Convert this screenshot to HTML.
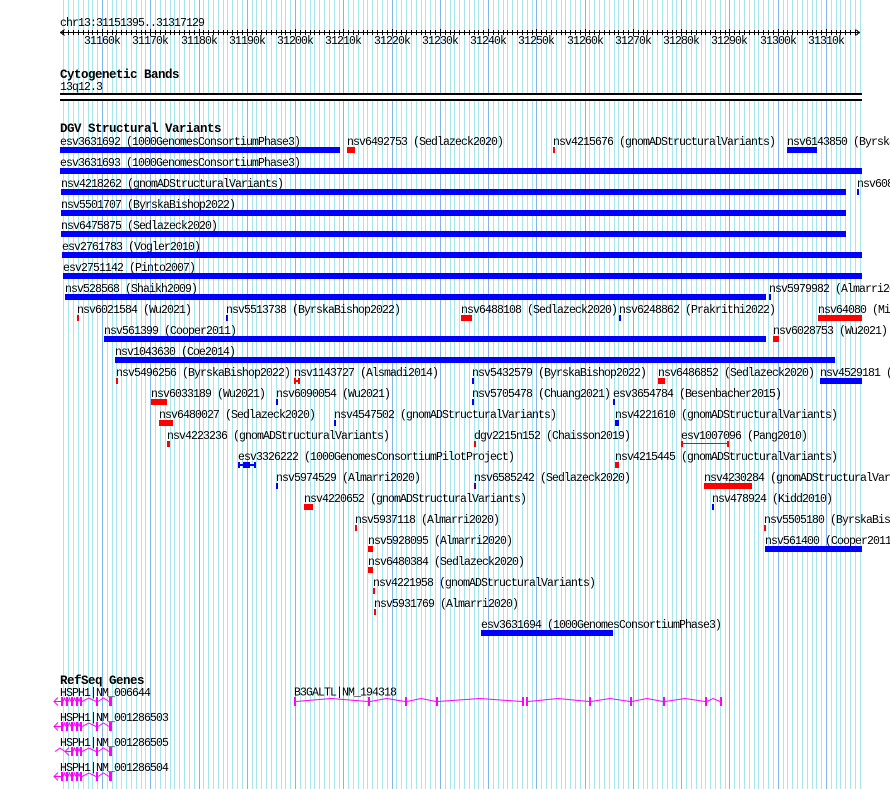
<!DOCTYPE html>
<html><head><meta charset="utf-8"><style>
html,body{margin:0;padding:0;background:#fff;}
svg{display:block;}
text{font-family:"Liberation Mono","DejaVu Sans Mono",monospace;font-size:11.5px;letter-spacing:-0.9px;fill:#000;}
text.b{font-weight:bold;font-size:12.5px;letter-spacing:-0.5px;}
</style></head><body>
<svg width="890" height="789" viewBox="0 0 890 789" xmlns="http://www.w3.org/2000/svg" shape-rendering="crispEdges">
<rect width="890" height="789" fill="#fff"/>
<!-- minor grid -->
<path stroke="#a8e6ee" stroke-width="1" fill="none" d="M63.5 0v789M68.5 0v789M73.5 0v789M78.5 0v789M83.5 0v789M88.5 0v789M92.5 0v789M97.5 0v789M107.5 0v789M112.5 0v789M116.5 0v789M121.5 0v789M126.5 0v789M131.5 0v789M136.5 0v789M141.5 0v789M145.5 0v789M155.5 0v789M160.5 0v789M165.5 0v789M170.5 0v789M174.5 0v789M179.5 0v789M184.5 0v789M189.5 0v789M194.5 0v789M203.5 0v789M208.5 0v789M213.5 0v789M218.5 0v789M223.5 0v789M227.5 0v789M232.5 0v789M237.5 0v789M242.5 0v789M252.5 0v789M256.5 0v789M261.5 0v789M266.5 0v789M271.5 0v789M276.5 0v789M281.5 0v789M285.5 0v789M290.5 0v789M300.5 0v789M305.5 0v789M310.5 0v789M314.5 0v789M319.5 0v789M324.5 0v789M329.5 0v789M334.5 0v789M339.5 0v789M348.5 0v789M353.5 0v789M358.5 0v789M363.5 0v789M367.5 0v789M372.5 0v789M377.5 0v789M382.5 0v789M387.5 0v789M396.5 0v789M401.5 0v789M406.5 0v789M411.5 0v789M416.5 0v789M421.5 0v789M425.5 0v789M430.5 0v789M435.5 0v789M445.5 0v789M450.5 0v789M454.5 0v789M459.5 0v789M464.5 0v789M469.5 0v789M474.5 0v789M478.5 0v789M483.5 0v789M493.5 0v789M498.5 0v789M503.5 0v789M507.5 0v789M512.5 0v789M517.5 0v789M522.5 0v789M527.5 0v789M532.5 0v789M541.5 0v789M546.5 0v789M551.5 0v789M556.5 0v789M561.5 0v789M565.5 0v789M570.5 0v789M575.5 0v789M580.5 0v789M589.5 0v789M594.5 0v789M599.5 0v789M604.5 0v789M609.5 0v789M614.5 0v789M618.5 0v789M623.5 0v789M628.5 0v789M638.5 0v789M643.5 0v789M647.5 0v789M652.5 0v789M657.5 0v789M662.5 0v789M667.5 0v789M672.5 0v789M676.5 0v789M686.5 0v789M691.5 0v789M696.5 0v789M701.5 0v789M705.5 0v789M710.5 0v789M715.5 0v789M720.5 0v789M725.5 0v789M734.5 0v789M739.5 0v789M744.5 0v789M749.5 0v789M754.5 0v789M758.5 0v789M763.5 0v789M768.5 0v789M773.5 0v789M783.5 0v789M787.5 0v789M792.5 0v789M797.5 0v789M802.5 0v789M807.5 0v789M812.5 0v789M816.5 0v789M821.5 0v789M831.5 0v789M836.5 0v789M840.5 0v789M845.5 0v789M850.5 0v789M855.5 0v789M860.5 0v789"/>
<!-- major grid -->
<path stroke="#82b6e8" stroke-width="1" fill="none" d="M102.5 0v789M150.5 0v789M199.5 0v789M247.5 0v789M295.5 0v789M343.5 0v789M392.5 0v789M440.5 0v789M488.5 0v789M536.5 0v789M585.5 0v789M633.5 0v789M681.5 0v789M729.5 0v789M778.5 0v789M826.5 0v789"/>

<!-- ruler -->
<text x="60" y="26">chr13:31151395..31317129</text>
<path stroke="#000" stroke-width="1" fill="none" d="M60 32.5H860"/>
<path stroke="#000" stroke-width="1" fill="none" d="M64.5 29.5L60.5 32.5L64.5 35.5M855.5 29.5L859.5 32.5L855.5 35.5"/>
<path stroke="#000" stroke-width="1" fill="none" d="M63.5 30v5M68.5 30v5M73.5 30v5M78.5 30v5M83.5 30v5M88.5 30v5M92.5 30v5M97.5 30v5M107.5 30v5M112.5 30v5M116.5 30v5M121.5 30v5M126.5 30v5M131.5 30v5M136.5 30v5M141.5 30v5M145.5 30v5M155.5 30v5M160.5 30v5M165.5 30v5M170.5 30v5M174.5 30v5M179.5 30v5M184.5 30v5M189.5 30v5M194.5 30v5M203.5 30v5M208.5 30v5M213.5 30v5M218.5 30v5M223.5 30v5M227.5 30v5M232.5 30v5M237.5 30v5M242.5 30v5M252.5 30v5M256.5 30v5M261.5 30v5M266.5 30v5M271.5 30v5M276.5 30v5M281.5 30v5M285.5 30v5M290.5 30v5M300.5 30v5M305.5 30v5M310.5 30v5M314.5 30v5M319.5 30v5M324.5 30v5M329.5 30v5M334.5 30v5M339.5 30v5M348.5 30v5M353.5 30v5M358.5 30v5M363.5 30v5M367.5 30v5M372.5 30v5M377.5 30v5M382.5 30v5M387.5 30v5M396.5 30v5M401.5 30v5M406.5 30v5M411.5 30v5M416.5 30v5M421.5 30v5M425.5 30v5M430.5 30v5M435.5 30v5M445.5 30v5M450.5 30v5M454.5 30v5M459.5 30v5M464.5 30v5M469.5 30v5M474.5 30v5M478.5 30v5M483.5 30v5M493.5 30v5M498.5 30v5M503.5 30v5M507.5 30v5M512.5 30v5M517.5 30v5M522.5 30v5M527.5 30v5M532.5 30v5M541.5 30v5M546.5 30v5M551.5 30v5M556.5 30v5M561.5 30v5M565.5 30v5M570.5 30v5M575.5 30v5M580.5 30v5M589.5 30v5M594.5 30v5M599.5 30v5M604.5 30v5M609.5 30v5M614.5 30v5M618.5 30v5M623.5 30v5M628.5 30v5M638.5 30v5M643.5 30v5M647.5 30v5M652.5 30v5M657.5 30v5M662.5 30v5M667.5 30v5M672.5 30v5M676.5 30v5M686.5 30v5M691.5 30v5M696.5 30v5M701.5 30v5M705.5 30v5M710.5 30v5M715.5 30v5M720.5 30v5M725.5 30v5M734.5 30v5M739.5 30v5M744.5 30v5M749.5 30v5M754.5 30v5M758.5 30v5M763.5 30v5M768.5 30v5M773.5 30v5M783.5 30v5M787.5 30v5M792.5 30v5M797.5 30v5M802.5 30v5M807.5 30v5M812.5 30v5M816.5 30v5M821.5 30v5M831.5 30v5M836.5 30v5M840.5 30v5M845.5 30v5M850.5 30v5M855.5 30v5M102.5 29v7M150.5 29v7M199.5 29v7M247.5 29v7M295.5 29v7M343.5 29v7M392.5 29v7M440.5 29v7M488.5 29v7M536.5 29v7M585.5 29v7M633.5 29v7M681.5 29v7M729.5 29v7M778.5 29v7M826.5 29v7"/>
<g text-anchor="middle">
<text x="102" y="44">31160k</text><text x="150" y="44">31170k</text><text x="199" y="44">31180k</text><text x="247" y="44">31190k</text><text x="295" y="44">31200k</text><text x="343" y="44">31210k</text><text x="392" y="44">31220k</text><text x="440" y="44">31230k</text><text x="488" y="44">31240k</text><text x="536" y="44">31250k</text><text x="585" y="44">31260k</text><text x="633" y="44">31270k</text><text x="681" y="44">31280k</text><text x="729" y="44">31290k</text><text x="778" y="44">31300k</text><text x="826" y="44">31310k</text>
</g>

<!-- cytogenetic bands -->
<text class="b" x="60" y="78">Cytogenetic Bands</text>
<text x="60" y="90">13q12.3</text>
<rect x="60" y="93" width="802" height="8" fill="#fff"/>
<rect x="60" y="93" width="802" height="2" fill="#000"/>
<rect x="60" y="99" width="802" height="2" fill="#000"/>

<!-- DGV -->
<text class="b" x="60" y="132">DGV Structural Variants</text>
<g>
<!-- r1 147 -->
<text x="60" y="145">esv3631692 (1000GenomesConsortiumPhase3)</text><rect x="60" y="147" width="280" height="6" fill="#00f"/>
<text x="347" y="145">nsv6492753 (Sedlazeck2020)</text><rect x="347" y="147" width="8" height="6" fill="#f00"/>
<text x="553" y="145">nsv4215676 (gnomADStructuralVariants)</text><rect x="553" y="147" width="2" height="6" fill="#f00"/>
<text x="787" y="145">nsv6143850 (ByrskaBishop2022)</text><rect x="787" y="147" width="30" height="6" fill="#00f"/>
<!-- r2 168 -->
<text x="60" y="166">esv3631693 (1000GenomesConsortiumPhase3)</text><rect x="60" y="168" width="802" height="6" fill="#00f"/>
<!-- r3 189 -->
<text x="61" y="187">nsv4218262 (gnomADStructuralVariants)</text><rect x="61" y="189" width="785" height="6" fill="#00f"/>
<text x="857" y="187">nsv608</text><rect x="857" y="189" width="2" height="6" fill="#00f"/>
<!-- r4 210 -->
<text x="61" y="208">nsv5501707 (ByrskaBishop2022)</text><rect x="61" y="210" width="785" height="6" fill="#00f"/>
<!-- r5 231 -->
<text x="61" y="229">nsv6475875 (Sedlazeck2020)</text><rect x="61" y="231" width="785" height="6" fill="#00f"/>
<!-- r6 252 -->
<text x="62" y="250">esv2761783 (Vogler2010)</text><rect x="62" y="252" width="800" height="6" fill="#00f"/>
<!-- r7 273 -->
<text x="63" y="271">esv2751142 (Pinto2007)</text><rect x="63" y="273" width="799" height="6" fill="#00f"/>
<!-- r8 294 -->
<text x="65" y="292">nsv528568 (Shaikh2009)</text><rect x="65" y="294" width="701" height="6" fill="#00f"/>
<text x="769" y="292">nsv5979982 (Almarri2020)</text><rect x="769" y="294" width="2" height="6" fill="#00f"/>
<!-- r9 315 -->
<text x="77" y="313">nsv6021584 (Wu2021)</text><rect x="77" y="315" width="2" height="6" fill="#f00"/>
<text x="226" y="313">nsv5513738 (ByrskaBishop2022)</text><rect x="226" y="315" width="2" height="6" fill="#00f"/>
<text x="461" y="313">nsv6488108 (Sedlazeck2020)</text><rect x="461" y="315" width="11" height="6" fill="#f00"/>
<text x="619" y="313">nsv6248862 (Prakrithi2022)</text><rect x="619" y="315" width="2" height="6" fill="#00f"/>
<text x="818" y="313">nsv64080 (Mills2011)</text><rect x="818" y="315" width="44" height="6" fill="#f00"/>
<!-- r10 336 -->
<text x="104" y="334">nsv561399 (Cooper2011)</text><rect x="104" y="336" width="662" height="6" fill="#00f"/>
<text x="773" y="334">nsv6028753 (Wu2021)</text><rect x="773" y="336" width="6" height="6" fill="#f00"/>
<!-- r11 357 -->
<text x="115" y="355">nsv1043630 (Coe2014)</text><rect x="115" y="357" width="720" height="6" fill="#00f"/>
<!-- r12 378 -->
<text x="116" y="376">nsv5496256 (ByrskaBishop2022)</text><rect x="116" y="378" width="2" height="6" fill="#f00"/>
<text x="294" y="376">nsv1143727 (Alsmadi2014)</text><rect x="294" y="378" width="2" height="6" fill="#f00"/><rect x="298" y="378" width="2" height="6" fill="#f00"/><rect x="296" y="380" width="2" height="2" fill="#f00"/>
<text x="472" y="376">nsv5432579 (ByrskaBishop2022)</text><rect x="472" y="378" width="2" height="6" fill="#00f"/>
<text x="658" y="376">nsv6486852 (Sedlazeck2020)</text><rect x="658" y="378" width="7" height="6" fill="#f00"/>
<text x="820" y="376">nsv4529181 (Collins2017)</text><rect x="820" y="378" width="42" height="6" fill="#00f"/>
<!-- r13 399 -->
<text x="151" y="397">nsv6033189 (Wu2021)</text><rect x="151" y="399" width="16" height="6" fill="#f00"/>
<text x="276" y="397">nsv6090054 (Wu2021)</text><rect x="276" y="399" width="2" height="6" fill="#00f"/>
<text x="472" y="397">nsv5705478 (Chuang2021)</text><rect x="472" y="399" width="2" height="6" fill="#00f"/>
<text x="613" y="397">esv3654784 (Besenbacher2015)</text><rect x="613" y="399" width="2" height="6" fill="#00f"/>
<!-- r14 420 -->
<text x="159" y="418">nsv6480027 (Sedlazeck2020)</text><rect x="159" y="420" width="14" height="6" fill="#f00"/>
<text x="334" y="418">nsv4547502 (gnomADStructuralVariants)</text><rect x="334" y="420" width="2" height="6" fill="#00f"/>
<text x="615" y="418">nsv4221610 (gnomADStructuralVariants)</text><rect x="615" y="420" width="4" height="6" fill="#00f"/>
<!-- r15 441 -->
<text x="167" y="439">nsv4223236 (gnomADStructuralVariants)</text><rect x="167" y="441" width="3" height="6" fill="#f00"/>
<text x="474" y="439">dgv2215n152 (Chaisson2019)</text><rect x="474" y="441" width="2" height="6" fill="#f00"/>
<text x="681" y="439">esv1007096 (Pang2010)</text><rect x="681" y="441" width="2" height="6" fill="#f00"/><rect x="727" y="441" width="2" height="6" fill="#f00"/><rect x="681" y="443" width="48" height="1" fill="#f00"/>
<!-- r16 462 -->
<text x="238" y="460">esv3326222 (1000GenomesConsortiumPilotProject)</text><rect x="238" y="462" width="2" height="6" fill="#00f"/><rect x="254" y="462" width="2" height="6" fill="#00f"/><rect x="238" y="464" width="18" height="2" fill="#00f"/><rect x="243" y="462" width="7" height="6" fill="#00f"/>
<text x="615" y="460">nsv4215445 (gnomADStructuralVariants)</text><rect x="615" y="462" width="4" height="6" fill="#f00"/>
<!-- r17 483 -->
<text x="276" y="481">nsv5974529 (Almarri2020)</text><rect x="276" y="483" width="2" height="6" fill="#00f"/>
<text x="474" y="481">nsv6585242 (Sedlazeck2020)</text><rect x="474" y="483" width="2" height="6" fill="#4b0082"/>
<text x="704" y="481">nsv4230284 (gnomADStructuralVariants)</text><rect x="704" y="483" width="48" height="6" fill="#f00"/>
<!-- r18 504 -->
<text x="304" y="502">nsv4220652 (gnomADStructuralVariants)</text><rect x="304" y="504" width="9" height="6" fill="#f00"/>
<text x="712" y="502">nsv478924 (Kidd2010)</text><rect x="712" y="504" width="2" height="6" fill="#00f"/>
<!-- r19 525 -->
<text x="355" y="523">nsv5937118 (Almarri2020)</text><rect x="355" y="525" width="2" height="6" fill="#f00"/>
<text x="764" y="523">nsv5505180 (ByrskaBishop2022)</text><rect x="764" y="525" width="2" height="6" fill="#f00"/>
<!-- r20 546 -->
<text x="368" y="544">nsv5928095 (Almarri2020)</text><rect x="368" y="546" width="5" height="6" fill="#f00"/>
<text x="765" y="544">nsv561400 (Cooper2011)</text><rect x="765" y="546" width="97" height="6" fill="#00f"/>
<!-- r21 567 -->
<text x="368" y="565">nsv6480384 (Sedlazeck2020)</text><rect x="368" y="567" width="5" height="6" fill="#f00"/>
<!-- r22 588 -->
<text x="373" y="586">nsv4221958 (gnomADStructuralVariants)</text><rect x="373" y="588" width="2" height="6" fill="#f00"/>
<!-- r23 609 -->
<text x="374" y="607">nsv5931769 (Almarri2020)</text><rect x="374" y="609" width="2" height="6" fill="#f00"/>
<!-- r24 630 -->
<text x="481" y="628">esv3631694 (1000GenomesConsortiumPhase3)</text><rect x="481" y="630" width="132" height="6" fill="#00f"/>
</g>

<!-- RefSeq genes -->
<text class="b" x="60" y="684">RefSeq Genes</text>
<defs>
<g id="hs">
<path fill="none" stroke="#f0f" stroke-width="1" shape-rendering="auto" d="M58,-4L54,0L58,4M54,0H61M63,0L64.5,-3.5L66,0M68,0L69.5,-3.5L71,0M73,0L74.5,-3.5L76,0M78,0L79,-3L80,0M82,0L89,-3.5L96,0M98,0L103.5,-3.5L109,0"/>
<g fill="#f0f"><rect x="61" y="-4.5" width="2" height="9"/><rect x="66" y="-4.5" width="2" height="9"/><rect x="71" y="-4.5" width="2" height="9"/><rect x="76" y="-4.5" width="2" height="9"/><rect x="80" y="-4.5" width="2" height="9"/><rect x="96" y="-4.5" width="2" height="9"/><rect x="109" y="-4.5" width="3" height="9"/></g>
</g>
<g id="hs3">
<path fill="none" stroke="#f0f" stroke-width="1" shape-rendering="auto" d="M55,0L60,-3.5L65,0M69,-4L65,0L69,4M65,0H71M73,0L74.5,-3.5L76,0M78,0L79,-3L80,0M82,0L89,-3.5L96,0M98,0L103.5,-3.5L109,0"/>
<g fill="#f0f"><rect x="71" y="-4.5" width="2" height="9"/><rect x="76" y="-4.5" width="2" height="9"/><rect x="80" y="-4.5" width="2" height="9"/><rect x="96" y="-4.5" width="2" height="9"/><rect x="109" y="-4.5" width="3" height="9"/></g>
</g>
</defs>
<text x="60" y="696">HSPH1|NM_006644</text>
<use href="#hs" transform="translate(0,701.5)"/>
<text x="60" y="721">HSPH1|NM_001286503</text>
<use href="#hs" transform="translate(0,726.5)"/>
<text x="60" y="746">HSPH1|NM_001286505</text>
<use href="#hs3" transform="translate(0,751.5)"/>
<text x="60" y="771">HSPH1|NM_001286504</text>
<use href="#hs" transform="translate(0,776.5)"/>

<text x="294" y="695.5">B3GALTL|NM_194318</text>
<g transform="translate(0,701.5)">
<path fill="none" stroke="#f0f" stroke-width="1" shape-rendering="auto" d="M296,0L331,-3L368,0M370,0L387,-3L405,0M407,0L421,-3L436,0M438,0L480,-3L522,0M528,0L558,-3L589,0M591,0L610,-3L630,0M632,0L647,-3L663,0M665,0L685,-3L705,0M707,0L713,-3L720,0"/>
<g fill="#f0f"><rect x="294" y="-4.5" width="2" height="9"/><rect x="368" y="-4.5" width="2" height="9"/><rect x="405" y="-4.5" width="2" height="9"/><rect x="436" y="-4.5" width="2" height="9"/><rect x="522" y="-4.5" width="2" height="9"/><rect x="526" y="-4.5" width="2" height="9"/><rect x="589" y="-4.5" width="2" height="9"/><rect x="630" y="-4.5" width="2" height="9"/><rect x="663" y="-4.5" width="2" height="9"/><rect x="705" y="-4.5" width="2" height="9"/><rect x="720" y="-4.5" width="2" height="9"/></g>
</g>
</svg>
</body></html>
